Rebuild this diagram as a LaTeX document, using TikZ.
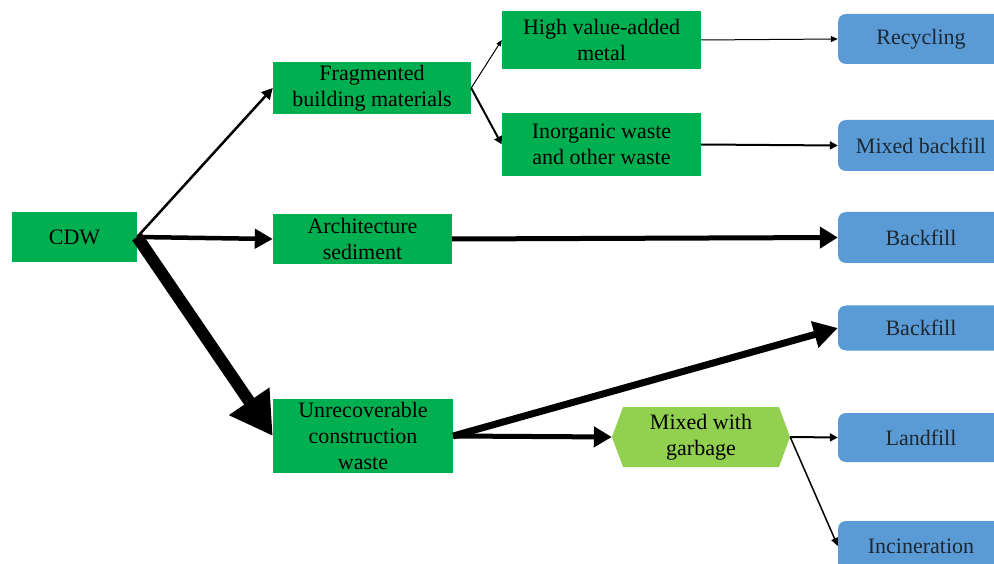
\documentclass[tikz,border=0pt]{standalone}
\usepackage{fontspec}
\newfontfamily\tnr{Liberation Serif}
\usetikzlibrary{arrows.meta}
\definecolor{gbox}{HTML}{00B050}
\definecolor{lgbox}{HTML}{92D050}
\definecolor{bbox}{HTML}{5B9BD5}
\definecolor{btext}{HTML}{1C2833}
\tikzset{
  lab/.style={font=\tnr\fontsize{22}{26}\selectfont, align=center, inner sep=0pt},
  gnode/.style={lab, fill=gbox, text=black},
  bnode/.style={lab, fill=bbox, text=btext, rounded corners=8pt, minimum width=166pt},
  conn/.style={draw=black, line cap=butt},
}
\begin{document}
\begin{tikzpicture}[x=1pt,y=-1pt]
\useasboundingbox (0,0) rectangle (994,564);
% green boxes
\node[gnode, minimum width=125pt, minimum height=50pt] (cdw) at (74.5,237) {CDW};
\node[gnode, minimum width=198pt, minimum height=52pt] (frag) at (372,88) {Fragmented\\building materials};
\node[gnode, minimum width=179pt, minimum height=50pt] (arch) at (362.5,239) {Architecture\\sediment};
\node[gnode, minimum width=180pt, minimum height=74pt] (unrec) at (363,436) {Unrecoverable\\construction\\waste};
\node[gnode, minimum width=199pt, minimum height=58pt] (high) at (601.5,40) {High value-added\\metal};
\node[gnode, minimum width=199pt, minimum height=63pt] (inorg) at (601.5,144.5) {Inorganic waste\\and other waste};
% hexagon
\fill[lgbox] (612,437) -- (623,407) -- (779,407) -- (790,437) -- (779,467) -- (623,467) -- cycle;
\node[lab, minimum width=178pt, minimum height=60pt] (hex) at (701,437) {Mixed with\\garbage};
% blue boxes
\node[bnode, minimum height=50pt] (recyc) at (921,39) {Recycling};
\node[bnode, minimum height=51pt] (mixb) at (921,145.5) {Mixed backfill};
\node[bnode, minimum height=51pt] (back1) at (921,237.5) {Backfill};
\node[bnode, minimum height=45pt] (back2) at (921,328) {Backfill};
\node[bnode, minimum height=49pt] (land) at (921,437.5) {Landfill};
\node[bnode, minimum height=50pt] (incin) at (921,546) {Incineration};
% connectors
\draw[conn, line width=2.5pt, -{Triangle[length=11pt,width=11pt]}] (cdw.east) -- (frag.west);
\draw[conn, line width=4.5pt, -{Triangle[length=18pt,width=19pt]}] (cdw.east) -- (arch.west);
\draw[conn, line width=12pt, -{Triangle[length=42pt,width=46pt]}] (cdw.east) -- (unrec.west);
\draw[conn, line width=1pt, -{Triangle[length=6pt,width=5pt]}] (frag.east) -- (high.west);
\draw[conn, line width=2pt, -{Triangle[length=8pt,width=8pt]}] (frag.east) -- (inorg.west);
\draw[conn, line width=1pt, -{Triangle[length=7pt,width=6pt]}] (high.east) -- (recyc.west);
\draw[conn, line width=2pt, -{Triangle[length=8pt,width=8pt]}] (inorg.east) -- (mixb.west);
\draw[conn, line width=5pt, -{Triangle[length=18pt,width=21pt]}] (arch.east) -- (back1.west);
\draw[conn, line width=7pt, -{Triangle[length=24pt,width=26pt]}] (unrec.east) -- (back2.west);
\draw[conn, line width=5pt, -{Triangle[length=18pt,width=20pt]}] (unrec.east) -- (hex.west);
\draw[conn, line width=2pt, -{Triangle[length=8pt,width=8pt]}] (hex.east) -- (land.west);
\draw[conn, line width=1.5pt, -{Triangle[length=8pt,width=7pt]}] (hex.east) -- (incin.west);
\end{tikzpicture}
\end{document}
